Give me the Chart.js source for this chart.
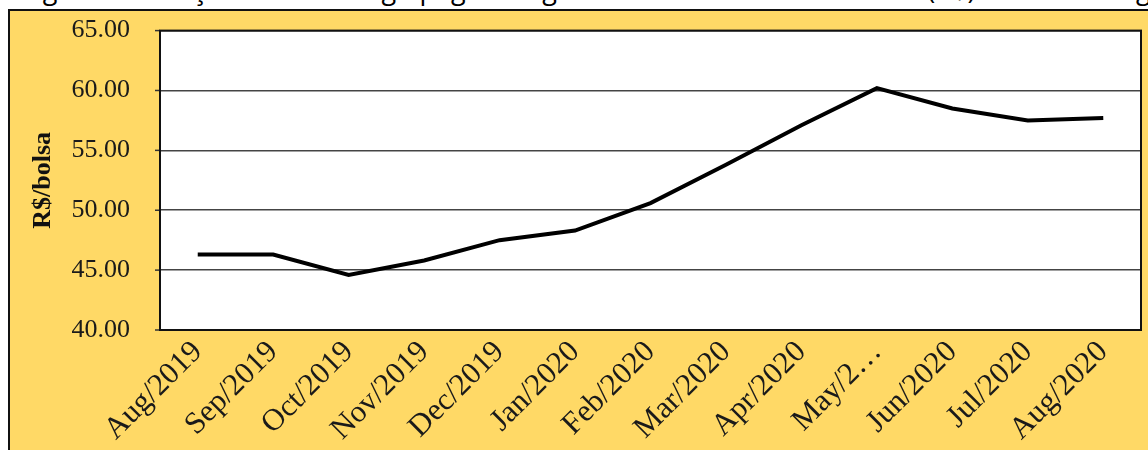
<!DOCTYPE html>
<html>
<head>
<meta charset="utf-8">
<script src="https://cdn.jsdelivr.net/npm/chart.js@4"></script>
<style>
  html, body { margin: 0; padding: 0; background: #fff; width: 1148px; height: 450px; overflow: hidden; }
  #caption {
    position: absolute; left: 0; top: 0; width: 1148px; height: 9px; overflow: hidden;
  }
  #caption span {
    position: absolute; left: 22px; top: -30px; white-space: nowrap;
    font-family: "Open Sans", sans-serif; font-size: 27px; color: #000;
  }
  #box {
    position: absolute; left: 8px; top: 9px; width: 1140px; height: 441px;
    background: #FFD966; border-left: 2px solid #111; border-top: 2px solid #111;
  }
</style>
</head>
<body>
<div id="caption"><span>Figura 1 – Preço médio de trigo pago ao agricultor no Rio Grande do Sul (R$) saca de 60 kg</span></div>
<div id="box"><canvas id="priceChart"></canvas></div>
<script>
// values
const months = ['Aug/2019', 'Sep/2019', 'Oct/2019', 'Nov/2019', 'Dec/2019', 'Jan/2020', 'Feb/2020',
                'Mar/2020', 'Apr/2020', 'May/2…', 'Jun/2020', 'Jul/2020', 'Aug/2020'];
const prices = [46.3, 46.3, 44.6, 45.8, 47.5, 48.3, 50.6, 53.8, 57.1, 60.2, 58.5, 57.5, 57.7];
const yTicks = [40, 45, 50, 55, 60, 65];

const serif = '"Liberation Serif", "Times New Roman", serif';

// white plot area, black frame and the small marks left of the value axis
const plotFrame = {
    id: 'plotFrame',
    beforeDraw(chart) {
        const a = chart.chartArea, ctx = chart.ctx;
        ctx.save();
        ctx.fillStyle = '#ffffff';
        ctx.fillRect(a.left, a.top, a.right - a.left, a.bottom - a.top);
        ctx.restore();
    },
    afterDraw(chart) {
        const a = chart.chartArea, ctx = chart.ctx;
        const y = chart.scales.y;
        ctx.save();
        ctx.strokeStyle = '#333';
        ctx.lineWidth = 1.5;
        yTicks.forEach(v => {
            const py = y.getPixelForValue(v);
            ctx.beginPath();
            ctx.moveTo(a.left - 5, py);
            ctx.lineTo(a.left, py);
            ctx.stroke();
        });
        ctx.strokeStyle = '#111';
        ctx.lineWidth = 2;
        ctx.strokeRect(a.left, a.top, a.right - a.left, a.bottom - a.top);
        ctx.restore();
    }
};

const ctx = document.getElementById('priceChart').getContext('2d');
new Chart(ctx, {
    type: 'line',
    data: {
        labels: months,
        datasets: [{
            data: prices,
            borderColor: '#000',
            borderWidth: 4,
            pointRadius: 0,
            tension: 0,
            fill: false
        }]
    },
    options: {
        responsive: true,
        maintainAspectRatio: false,
        animation: false,
        layout: { padding: { top: 0, right: 9, left: 0, bottom: 0 } },
        plugins: {
            legend: { display: false },
            tooltip: { enabled: false }
        },
        scales: {
            x: {
                offset: true,
                afterFit(scale) { scale.height = 122; },
                grid: { display: false, drawTicks: false },
                border: { display: false },
                ticks: {
                    autoSkip: false,
                    minRotation: 45,
                    maxRotation: 45,
                    padding: 4,
                    color: '#1a1a1a',
                    font: { family: serif, size: 31 }
                }
            },
            y: {
                min: 40,
                max: 65,
                afterFit(scale) { scale.width = 150; },
                afterBuildTicks(scale) { scale.ticks = yTicks.map(v => ({ value: v })); },
                grid: { color: '#444', lineWidth: 1.5, drawTicks: true, tickLength: 26, tickColor: 'rgba(0,0,0,0)' },
                border: { display: false },
                ticks: {
                    padding: 4,
                    color: '#1a1a1a',
                    font: { family: serif, size: 26 },
                    callback: v => Number(v).toFixed(2)
                },
                title: {
                    display: true,
                    text: 'R$/bolsa',
                    color: '#111',
                    padding: { top: 18, bottom: 0 },
                    font: { family: serif, size: 26, weight: 'bold' }
                }
            }
        }
    },
    plugins: [plotFrame]
});
</script>
</body>
</html>
